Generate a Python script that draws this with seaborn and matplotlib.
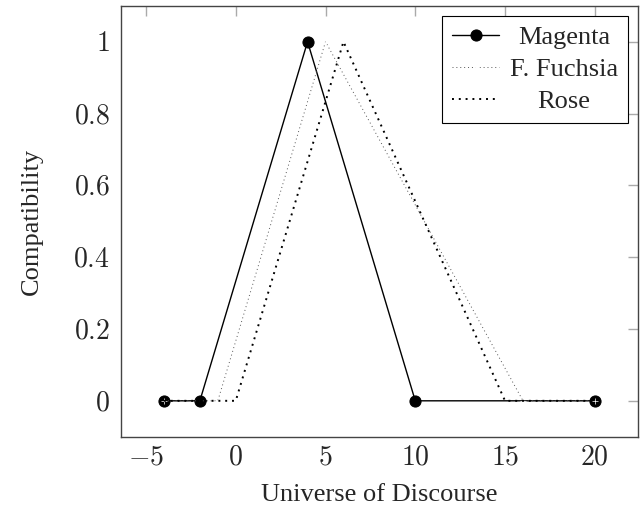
import matplotlib
matplotlib.use("Agg")
import matplotlib.pyplot as plt
import seaborn as sns
import pandas as pd

# Data
magenta_x = [-4, -2, 4, 10, 20]
magenta_y = [0, 0, 1, 0, 0]
fuchsia_x = [-4, -1, 5, 16, 20]
fuchsia_y = [0, 0, 1, 0, 0]
rose_x = [-4, 0, 6, 15, 20]
rose_y = [0, 0, 1, 0, 0]
x_ticks = [-5, 0, 5, 10, 15, 20]
y_ticks = [0, 0.2, 0.4, 0.6, 0.8, 1]

sns.set_theme(style="white")
plt.rcParams['font.family'] = ['Liberation Serif', 'DejaVu Serif']
plt.rcParams['mathtext.fontset'] = 'cm'

fig = plt.figure(figsize=(6.43, 5.09), dpi=100)
ax = fig.add_axes([0.188, 0.142, 0.804, 0.8466])

sns.lineplot(x=magenta_x, y=magenta_y, ax=ax, color='black', linewidth=1.0,
             marker='o', markersize=8, markeredgecolor='black', label='Magenta',
             sort=False)
sns.lineplot(x=fuchsia_x, y=fuchsia_y, ax=ax, color='#555555', linewidth=0.7,
             linestyle=(0, (1, 3)), marker='+', markersize=4, markeredgewidth=0.5,
             label='F. Fuchsia', sort=False)
sns.lineplot(x=rose_x, y=rose_y, ax=ax, color='black', linewidth=1.4,
             linestyle=(0, (1, 2.5)), label='Rose', sort=False)

ax.set_xlim(-6.4, 22.4)
ax.set_ylim(-0.1, 1.1)
ax.set_xticks(x_ticks)
ax.set_yticks(y_ticks)
ax.set_xticklabels([f'${t}$' for t in x_ticks])
ax.set_yticklabels([f'${t:g}$' for t in y_ticks])
ax.tick_params(axis='both', which='both', direction='in', length=7, width=1,
               color='#aaaaaa', top=True, right=True, labelsize=20, pad=8)
ax.tick_params(axis='x', pad=6)
for s in ax.spines.values():
    s.set_color('#444444')
    s.set_linewidth(1.0)

ax.set_xlabel('Universe of Discourse', fontsize=19, labelpad=10)
ax.set_ylabel('Compatibility', fontsize=19, labelpad=22)

leg = ax.legend(loc='upper right', fontsize=19, frameon=True, fancybox=False,
                edgecolor='black', framealpha=1, borderaxespad=0.38,
                handlelength=1.8, handletextpad=0.4, borderpad=0.37,
                labelspacing=0.32)
leg.get_frame().set_linewidth(0.8)

# centre legend texts within their column, like the reference
fig.canvas.draw()
r = fig.canvas.get_renderer()
texts = leg.get_texts()
widths = [t.get_window_extent(r).width for t in texts]
wmax = max(widths)
for t, w in zip(texts, widths):
    t.set_x((wmax - w) / 2)

fig.savefig('out.png', dpi=100)
